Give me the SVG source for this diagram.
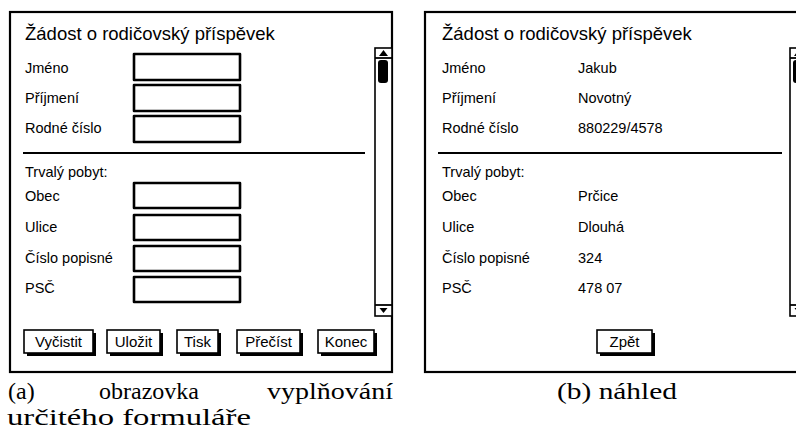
<svg xmlns="http://www.w3.org/2000/svg" width="796" height="441" viewBox="0 0 796 441">
<style>
.frame{fill:#fff;stroke:#000;stroke-width:2.2}
.box{fill:#fff;stroke:#000;stroke-width:2.6;stroke-linejoin:round}
.sep{stroke:#000;stroke-width:1.8}
.title{font-family:"Liberation Sans",Arial,sans-serif;font-size:18.5px;fill:#000}
.lbl{font-family:"Liberation Sans",Arial,sans-serif;font-size:14.5px;fill:#000}
.btxt{font-family:"Liberation Sans",Arial,sans-serif;font-size:15px;fill:#000;text-anchor:middle}
.bface{fill:#fff;stroke:#000;stroke-width:1.6}
.bshadow{fill:#000}
.sb{fill:#fff;stroke:#000;stroke-width:1.6}
.cap{font-family:"Liberation Serif","Times New Roman",serif;font-size:24px;fill:#000}
</style>
<defs>
<g id="btnshape"/>
</defs>

<g id="screen-a">
<rect class="frame" x="10" y="12" width="382" height="360"/>
<text class="title" x="25" y="40">Žádost o rodičovský příspěvek</text>
<g id="scroll-a">
<rect class="sb" x="375" y="48" width="17" height="268"/>
<line class="sep" x1="375" y1="58" x2="392" y2="58"/>
<polygon points="379,56 383.5,50 388,56" fill="#000"/>
<rect x="378" y="60" width="10" height="23" rx="3" fill="#000"/>
<line class="sep" x1="375" y1="305" x2="392" y2="305"/>
<polygon points="379.5,308 383.5,313 387.5,308" fill="#000"/>
</g>
<text class="lbl" x="25" y="73">Jméno</text>
<rect class="box" x="134" y="54" width="106" height="26"/>
<text class="lbl" x="25" y="103">Příjmení</text>
<rect class="box" x="134" y="85" width="106" height="26"/>
<text class="lbl" x="25" y="133">Rodné číslo</text>
<rect class="box" x="134" y="116" width="106" height="26"/>
<line class="sep" x1="23" y1="153" x2="365" y2="153"/>
<text class="lbl" x="25" y="177">Trvalý pobyt:</text>
<text class="lbl" x="25" y="201">Obec</text>
<rect class="box" x="134" y="183" width="106" height="25"/>
<text class="lbl" x="25" y="232">Ulice</text>
<rect class="box" x="134" y="215" width="106" height="25"/>
<text class="lbl" x="25" y="263">Číslo popisné</text>
<rect class="box" x="134" y="246" width="106" height="25"/>
<text class="lbl" x="25" y="293">PSČ</text>
<rect class="box" x="134" y="277" width="106" height="25"/>
<g id="btn-vycistit">
<rect class="bshadow" x="27" y="333" width="69" height="23"/>
<rect class="bface" x="24" y="330" width="69" height="23"/>
<text class="btxt" x="58.5" y="347">Vyčistit</text>
</g>
<g id="btn-ulozit">
<rect class="bshadow" x="110" y="333" width="53" height="23"/>
<rect class="bface" x="107" y="330" width="53" height="23"/>
<text class="btxt" x="133.5" y="347">Uložit</text>
</g>
<g id="btn-tisk">
<rect class="bshadow" x="180" y="333" width="41" height="23"/>
<rect class="bface" x="177" y="330" width="41" height="23"/>
<text class="btxt" x="197.5" y="347">Tisk</text>
</g>
<g id="btn-precist">
<rect class="bshadow" x="240" y="333" width="63" height="23"/>
<rect class="bface" x="237" y="330" width="63" height="23"/>
<text class="btxt" x="268.5" y="347">Přečíst</text>
</g>
<g id="btn-konec">
<rect class="bshadow" x="321" y="333" width="56" height="23"/>
<rect class="bface" x="318" y="330" width="56" height="23"/>
<text class="btxt" x="346" y="347">Konec</text>
</g>
</g>

<g id="screen-b">
<rect class="frame" x="425" y="12" width="382" height="360"/>
<text class="title" x="442" y="40">Žádost o rodičovský příspěvek</text>
<g id="scroll-b">
<rect class="sb" x="790" y="48" width="17" height="268"/>
<line class="sep" x1="790" y1="58" x2="807" y2="58"/>
<polygon points="794,56 798.5,50 803,56" fill="#000"/>
<rect x="793" y="60" width="10" height="23" rx="3" fill="#000"/>
<line class="sep" x1="790" y1="305" x2="807" y2="305"/>
<polygon points="794.5,308 798.5,313 802.5,308" fill="#000"/>
</g>
<text class="lbl" x="442" y="73">Jméno</text>
<text class="lbl" x="578" y="73">Jakub</text>
<text class="lbl" x="442" y="103">Příjmení</text>
<text class="lbl" x="578" y="103">Novotný</text>
<text class="lbl" x="442" y="133">Rodné číslo</text>
<text class="lbl" x="578" y="133">880229/4578</text>
<line class="sep" x1="438" y1="153" x2="782" y2="153"/>
<text class="lbl" x="442" y="177">Trvalý pobyt:</text>
<text class="lbl" x="442" y="201">Obec</text>
<text class="lbl" x="578" y="201">Prčice</text>
<text class="lbl" x="442" y="232">Ulice</text>
<text class="lbl" x="578" y="232">Dlouhá</text>
<text class="lbl" x="442" y="263">Číslo popisné</text>
<text class="lbl" x="578" y="263">324</text>
<text class="lbl" x="442" y="293">PSČ</text>
<text class="lbl" x="578" y="293">478 07</text>
<g id="btn-zpet">
<rect class="bshadow" x="600" y="333" width="55" height="23"/>
<rect class="bface" x="597" y="330" width="55" height="23"/>
<text class="btxt" x="624.5" y="347">Zpět</text>
</g>
</g>

<g id="captions">
<text class="cap" x="8" y="399">(a)</text>
<text class="cap" x="99" y="399" textLength="100" lengthAdjust="spacingAndGlyphs">obrazovka</text>
<text class="cap" x="267" y="399" textLength="126" lengthAdjust="spacingAndGlyphs">vyplňování</text>
<text class="cap" x="7" y="425" textLength="244" lengthAdjust="spacingAndGlyphs">určitého formuláře</text>
<text class="cap" x="557" y="399" textLength="120" lengthAdjust="spacingAndGlyphs">(b) náhled</text>
</g>
</svg>
